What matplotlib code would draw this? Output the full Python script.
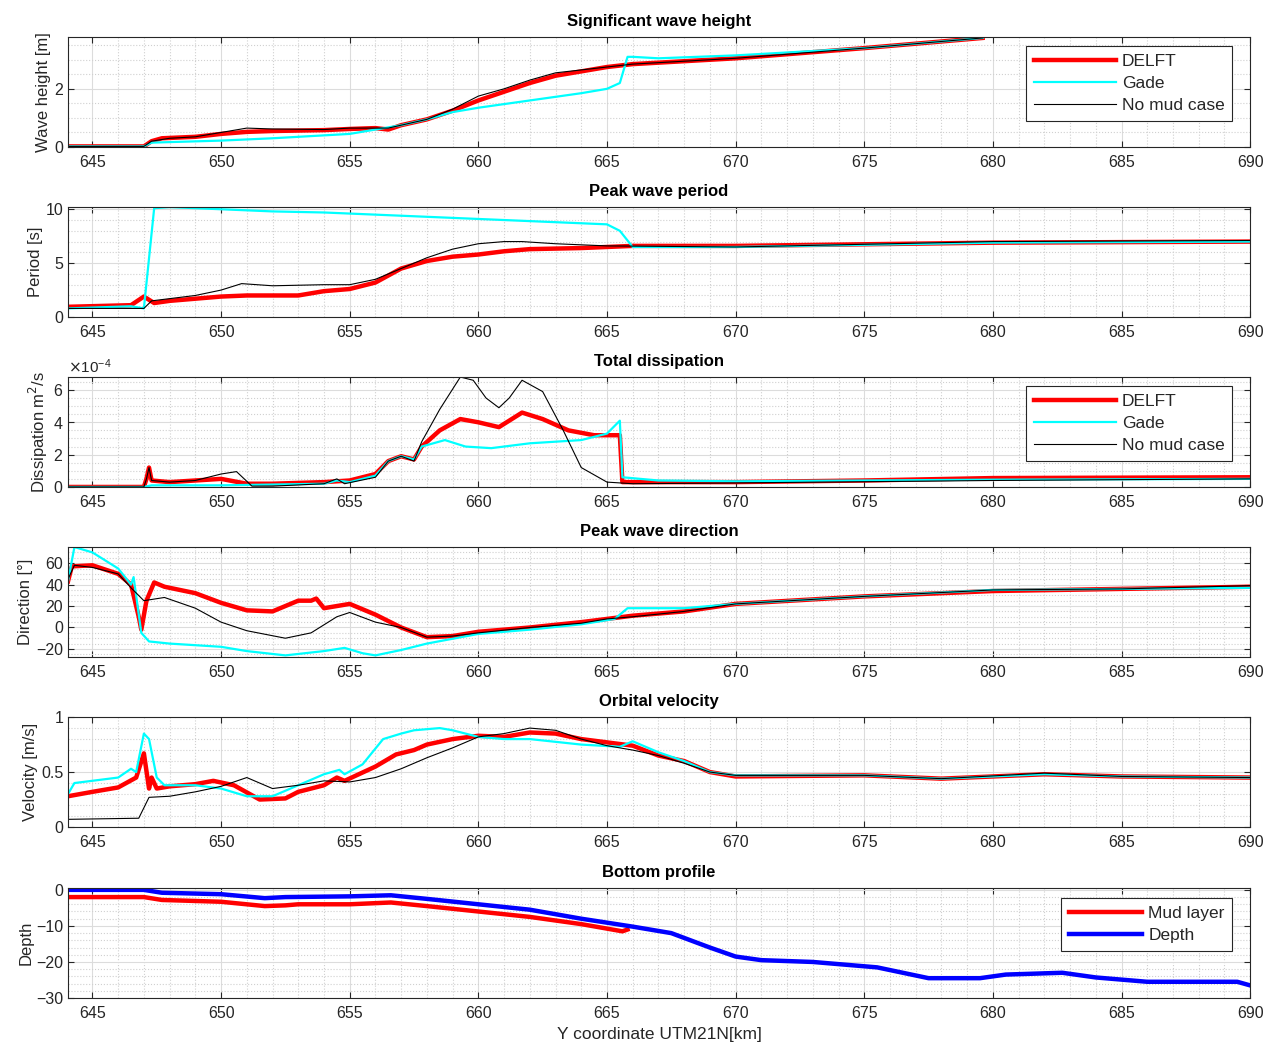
import numpy as np
import matplotlib
matplotlib.use("Agg")
import matplotlib.pyplot as plt
from matplotlib.ticker import MultipleLocator, ScalarFormatter

plt.rcParams['font.family'] = ['Liberation Sans', 'DejaVu Sans']
plt.rcParams['font.size'] = 11

# --- significant wave height [m]
hs_delft_x = [644.05, 647.0, 647.3, 647.7, 649, 650, 651, 652, 654, 655, 656, 656.5, 657, 658, 659, 660, 661, 662, 663, 664, 665, 666, 670, 675, 679.6]
hs_delft_y = [0.02, 0.02, 0.2, 0.3, 0.35, 0.45, 0.52, 0.55, 0.58, 0.62, 0.65, 0.6, 0.75, 0.95, 1.25, 1.6, 1.9, 2.2, 2.45, 2.6, 2.75, 2.85, 3.05, 3.4, 3.75]
hs_gade_x = [644.05, 647.0, 647.3, 650, 652, 654, 655, 656, 657, 658, 659, 660, 662, 664, 665, 665.5, 665.8, 666, 667, 670, 675, 679.6]
hs_gade_y = [0.02, 0.02, 0.15, 0.22, 0.3, 0.4, 0.45, 0.6, 0.75, 0.95, 1.2, 1.35, 1.6, 1.85, 2.0, 2.2, 3.1, 3.1, 3.05, 3.15, 3.4, 3.75]
hs_nomud_x = [644.05, 647.0, 647.3, 648, 649, 650, 651, 652, 654, 655, 656.5, 657, 658, 659, 660, 661, 662, 663, 664, 665, 666, 670, 675, 679.6]
hs_nomud_y = [0.02, 0.02, 0.2, 0.3, 0.35, 0.5, 0.65, 0.62, 0.6, 0.65, 0.65, 0.75, 0.95, 1.3, 1.75, 2.0, 2.3, 2.55, 2.65, 2.75, 2.85, 3.05, 3.4, 3.75]

# --- peak wave period [s]
tp_delft_x = [644.05, 646.5, 647.0, 647.4, 648, 649, 650, 651, 653, 654, 655, 656, 657, 658, 659, 660, 661, 662, 664, 666, 670, 680, 690]
tp_delft_y = [0.95, 1.1, 1.9, 1.3, 1.5, 1.7, 1.9, 2.0, 2.0, 2.4, 2.6, 3.2, 4.5, 5.2, 5.6, 5.8, 6.1, 6.3, 6.4, 6.6, 6.6, 6.9, 7.0]
tp_gade_x = [644.05, 646.5, 647.0, 647.4, 648, 650, 652, 654, 656, 660, 663, 665, 665.5, 666, 670, 680, 690]
tp_gade_y = [0.8, 1.0, 0.8, 10.1, 10.2, 10.0, 9.8, 9.7, 9.5, 9.1, 8.8, 8.6, 8.0, 6.5, 6.5, 6.9, 7.0]
tp_nomud_x = [644.05, 647.0, 647.3, 649, 650, 650.8, 652, 654, 655, 656, 657, 658, 659, 660, 661, 661.7, 663, 665, 670, 680, 690]
tp_nomud_y = [0.8, 0.8, 1.5, 2.0, 2.5, 3.1, 2.9, 3.0, 3.0, 3.5, 4.5, 5.5, 6.3, 6.8, 7.0, 7.0, 6.8, 6.6, 6.5, 7.0, 7.1]

# --- total dissipation [1e-4 m2/s]
ds_delft_x = [644.05, 647.0, 647.1, 647.2, 647.3, 648, 649, 650, 651, 652, 654, 655, 656, 656.5, 657, 657.5, 657.8, 658.5, 659.3, 660, 660.8, 661.7, 662.5, 663.5, 664.5, 665.5, 665.6, 670, 675, 680, 690]
ds_delft_y = [0, 0, 0.5, 1.2, 0.4, 0.3, 0.4, 0.5, 0.2, 0.2, 0.3, 0.4, 0.8, 1.6, 1.9, 1.7, 2.5, 3.5, 4.2, 4.0, 3.7, 4.6, 4.2, 3.5, 3.2, 3.2, 0.3, 0.3, 0.4, 0.55, 0.6]
ds_gade_x = [644.05, 647.0, 647.3, 650, 654, 654.5, 655, 656, 656.5, 657, 657.5, 657.8, 658.7, 659.5, 660.5, 662, 664, 665, 665.5, 665.6, 667, 670, 680, 690]
ds_gade_y = [0, 0, 0.1, 0.1, 0.2, 0.4, 0.3, 0.7, 1.6, 1.9, 1.7, 2.5, 2.9, 2.5, 2.4, 2.7, 2.9, 3.3, 4.1, 0.6, 0.4, 0.35, 0.45, 0.5]
ds_nomud_x = [644.05, 647.0, 647.1, 647.2, 647.3, 648, 649, 649.5, 650, 650.6, 651.2, 652, 654, 654.5, 654.8, 656, 656.5, 657, 657.5, 657.8, 658.5, 659.3, 659.8, 660.3, 660.8, 661.2, 661.7, 662.5, 663.3, 664, 665, 666, 670, 680, 690]
ds_nomud_y = [0, 0, 0.5, 1.2, 0.4, 0.3, 0.4, 0.6, 0.8, 0.95, 0.05, 0.05, 0.2, 0.5, 0.2, 0.6, 1.6, 1.9, 1.6, 2.8, 4.8, 6.8, 6.6, 5.5, 4.9, 5.5, 6.6, 5.9, 3.5, 1.2, 0.3, 0.2, 0.25, 0.4, 0.5]

# --- peak wave direction [deg]
dir_delft_x = [644.05, 644.2, 645, 646, 646.5, 646.8, 646.9, 647.1, 647.4, 647.8, 649, 650, 651, 652, 652.5, 653, 653.5, 653.7, 654, 654.5, 655, 656, 657, 658, 659, 660, 662, 664, 665, 666, 668, 670, 675, 680, 685, 690]
dir_delft_y = [43, 57, 58, 50, 40, 10, -2, 25, 42, 38, 32, 23, 16, 15, 20, 25, 25, 27, 18, 20, 22, 12, 0, -9, -8, -4, 0, 5, 8, 11, 15, 22, 29, 34, 36, 38]
dir_gade_x = [644.05, 644.3, 645, 646, 646.5, 646.6, 646.9, 647.2, 648, 650, 651, 652.5, 654, 654.8, 655.5, 656, 657, 658, 660, 662, 664, 665.3, 665.8, 666.5, 668, 670, 675, 680, 685, 690]
dir_gade_y = [43, 75, 70, 55, 40, 47, -5, -13, -15, -18, -22, -26, -22, -19, -24, -26, -21, -15, -6, -2, 3, 8, 18, 18, 18, 22, 29, 35, 36, 37]
dir_nomud_x = [644.05, 644.3, 645, 646, 646.5, 647, 647.8, 649, 650, 651, 652.5, 653.5, 654.5, 655, 656, 657, 658, 659, 660, 662, 664, 665, 666, 668, 670, 675, 680, 685, 690]
dir_nomud_y = [45, 58, 56, 50, 37, 25, 28, 18, 5, -3, -10, -5, 10, 14, 5, 0, -9, -8, -5, 0, 4, 8, 10, 15, 22, 29, 35, 36, 39]

# --- orbital velocity [m/s]
ub_delft_x = [644.05, 645, 646, 646.7, 647, 647.2, 647.3, 647.5, 648, 649, 649.7, 650.5, 651.5, 652.5, 653, 654, 654.5, 654.8, 656, 656.8, 657.5, 658, 659, 660, 661, 662, 663, 664, 665, 666, 667, 668, 669, 670, 675, 678, 682, 685, 690]
ub_delft_y = [0.28, 0.32, 0.36, 0.45, 0.67, 0.35, 0.45, 0.35, 0.37, 0.39, 0.42, 0.38, 0.25, 0.26, 0.32, 0.38, 0.45, 0.42, 0.55, 0.66, 0.7, 0.75, 0.8, 0.83, 0.82, 0.86, 0.85, 0.8, 0.77, 0.74, 0.65, 0.6, 0.5, 0.46, 0.47, 0.44, 0.48, 0.46, 0.45]
ub_gade_x = [644.05, 644.3, 646, 646.5, 646.7, 647, 647.2, 647.5, 647.8, 649, 650, 651, 652, 653, 654, 654.6, 654.8, 655.5, 656.3, 657, 657.5, 658.5, 659, 660, 661, 662, 664, 665.5, 666, 667, 668, 669, 670, 675, 678, 682, 685, 690]
ub_gade_y = [0.3, 0.4, 0.45, 0.53, 0.5, 0.85, 0.8, 0.45, 0.38, 0.38, 0.35, 0.28, 0.28, 0.38, 0.48, 0.52, 0.48, 0.57, 0.8, 0.85, 0.88, 0.9, 0.88, 0.82, 0.8, 0.8, 0.75, 0.73, 0.78, 0.68, 0.6, 0.5, 0.47, 0.47, 0.44, 0.48, 0.46, 0.45]
ub_nomud_x = [644.05, 646.8, 647.2, 648, 649, 650, 651, 652, 653, 654, 655, 656, 657, 658, 659, 660, 661, 662, 663, 664, 665, 666, 667, 668, 669, 670, 675, 678, 682, 685, 690]
ub_nomud_y = [0.07, 0.08, 0.27, 0.28, 0.32, 0.37, 0.45, 0.35, 0.38, 0.42, 0.41, 0.45, 0.53, 0.63, 0.72, 0.82, 0.85, 0.9, 0.88, 0.8, 0.74, 0.7, 0.65, 0.58, 0.5, 0.47, 0.47, 0.44, 0.49, 0.46, 0.45]

# --- bottom profile [m]
mud_x = [644.05, 647, 647.7, 650, 651.7, 652.5, 653, 655, 656.6, 658, 660, 662, 664, 665.6, 665.8]
mud_y = [-2, -2, -2.8, -3.3, -4.5, -4.3, -4, -4, -3.5, -4.5, -6, -7.5, -9.5, -11.5, -11]
depth_x = [644.05, 647, 647.7, 650, 651.7, 652.5, 655, 656.6, 658, 660, 662, 664, 666, 667.5, 669, 670, 671, 673, 675.5, 677.5, 679.5, 680.5, 682.7, 684, 686, 689.5, 690]
depth_y = [0, 0, -0.8, -1.2, -2.3, -2, -1.8, -1.5, -2.5, -4, -5.5, -8, -10.2, -12, -16, -18.5, -19.5, -20, -21.5, -24.5, -24.5, -23.5, -23, -24.3, -25.5, -25.5, -26.5]

xticks = [645, 650, 655, 660, 665, 670, 675, 680, 685, 690]
txt = '#262626'

fig = plt.figure(figsize=(12.78, 10.47), dpi=100)
bottoms = [0.8596, 0.6972, 0.5349, 0.3725, 0.2101, 0.0468]
axes = [fig.add_axes([0.0532, b, 0.925, 0.105]) for b in bottoms]


def style(ax, title, ylabel, ylim, yticks, yminor):
    ax.set_xlim(644.05, 690)
    ax.set_ylim(*ylim)
    ax.set_xticks(xticks)
    ax.set_yticks(yticks)
    ax.xaxis.set_minor_locator(MultipleLocator(1))
    ax.yaxis.set_minor_locator(MultipleLocator(yminor))
    ax.grid(True, which='major', color='#dcdcdc', linestyle='-', linewidth=0.8)
    ax.grid(True, which='minor', color='#d0d0d0', linestyle=':', linewidth=0.8)
    ax.set_axisbelow(True)
    ax.tick_params(which='both', direction='in', top=True, right=True,
                   colors=txt, labelsize=11.5, labelcolor=txt)
    ax.tick_params(which='minor', length=0)
    ax.tick_params(which='major', length=4)
    ax.tick_params(axis='x', pad=6)
    for s in ax.spines.values():
        s.set_color(txt)
    ax.set_title(title, fontsize=12, fontweight='bold', pad=8)
    ax.set_ylabel(ylabel, fontsize=12, color=txt, labelpad=2)


def three(ax, d, g, n):
    ax.plot(*d, color='red', lw=3.2, label='DELFT')
    ax.plot(*g, color='cyan', lw=1.6, label='Gade')
    ax.plot(*n, color='black', lw=0.8, label='No mud case')


def box_legend(ax, anchor, hlen=4.7):
    leg = ax.legend(loc='upper right', bbox_to_anchor=anchor, borderaxespad=0,
                    fancybox=False, framealpha=1, edgecolor='#262626',
                    handlelength=hlen, fontsize=12.5, labelspacing=0.4,
                    borderpad=0.45, handletextpad=0.35)
    leg.get_frame().set_linewidth(0.8)
    for t in leg.get_texts():
        t.set_color(txt)


ax = axes[0]
three(ax, (hs_delft_x, hs_delft_y), (hs_gade_x, hs_gade_y), (hs_nomud_x, hs_nomud_y))
style(ax, 'Significant wave height', 'Wave height [m]', (0, 3.78), [0, 2], 0.5)
box_legend(ax, (0.985, 0.92))

ax = axes[1]
three(ax, (tp_delft_x, tp_delft_y), (tp_gade_x, tp_gade_y), (tp_nomud_x, tp_nomud_y))
style(ax, 'Peak wave period', 'Period [s]', (0, 10.2), [0, 5, 10], 1)

ax = axes[2]
scale = 1e-4
three(ax, (ds_delft_x, np.array(ds_delft_y) * scale),
      (ds_gade_x, np.array(ds_gade_y) * scale),
      (ds_nomud_x, np.array(ds_nomud_y) * scale))
style(ax, 'Total dissipation', 'Dissipation m$^2$/s', (0, 6.8e-4),
      [0, 2e-4, 4e-4, 6e-4], 0.5e-4)
fmt = ScalarFormatter(useMathText=True)
fmt.set_powerlimits((0, 0))
ax.yaxis.set_major_formatter(fmt)
ax.yaxis.get_offset_text().set_color(txt)
ax.yaxis.get_offset_text().set_fontsize(11)
box_legend(ax, (0.985, 0.92))

ax = axes[3]
three(ax, (dir_delft_x, dir_delft_y), (dir_gade_x, dir_gade_y), (dir_nomud_x, dir_nomud_y))
style(ax, 'Peak wave direction', 'Direction [°]', (-27.5, 75), [-20, 0, 20, 40, 60], 5)

ax = axes[4]
three(ax, (ub_delft_x, ub_delft_y), (ub_gade_x, ub_gade_y), (ub_nomud_x, ub_nomud_y))
style(ax, 'Orbital velocity', 'Velocity [m/s]', (0, 1), [0, 0.5, 1], 0.1)
ax.set_yticklabels(['0', '0.5', '1'])

ax = axes[5]
ax.plot(mud_x, mud_y, color='red', lw=3.2, label='Mud layer')
ax.plot(depth_x, depth_y, color='blue', lw=3.2, label='Depth')
style(ax, 'Bottom profile', 'Depth', (-30, 0.5), [-30, -20, -10, 0], 2)
box_legend(ax, (0.985, 0.91), hlen=4.2)
ax.set_xlabel('Y coordinate UTM21N[km]', fontsize=12.5, color=txt, labelpad=4)

fig.savefig('out.png', dpi=100)
